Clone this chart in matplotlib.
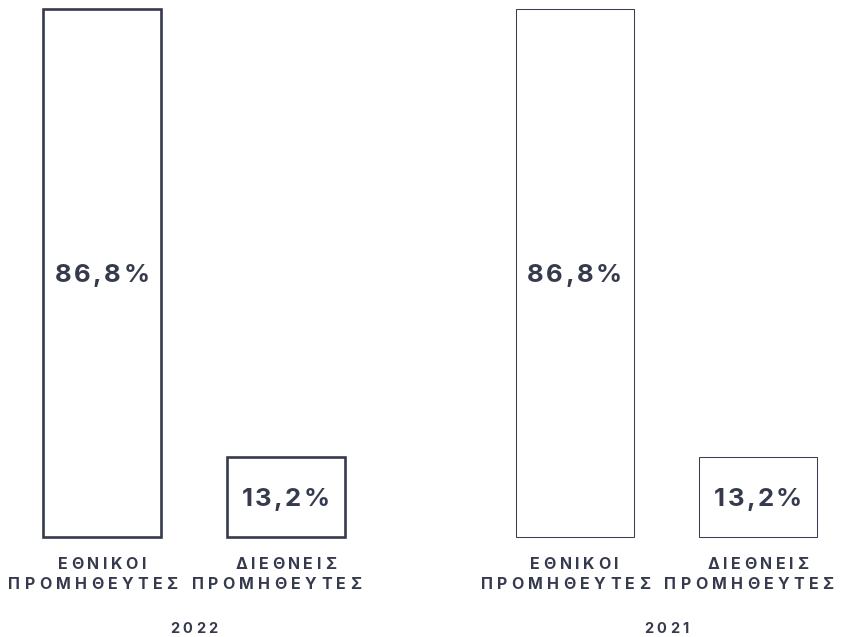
import matplotlib
matplotlib.use("Agg")
import matplotlib.pyplot as plt
from matplotlib.font_manager import FontProperties
from matplotlib.transforms import offset_copy

years = ["2022", "2021"]
category_lines = [["ΕΘΝΙΚΟΙ", "ΠΡΟΜΗΘΕΥΤΕΣ"], ["ΔΙΕΘΝΕΙΣ", "ΠΡΟΜΗΘΕΥΤΕΣ"]]
values_2022 = [86.8, 13.2]
values_2021 = [86.8, 13.2]

ink = "#363a4d"
fonts = ["Inter", "DejaVu Sans"]

fig = plt.figure(figsize=(8.43, 6.37), dpi=100)
ax = fig.add_axes([0, 0, 1, 1])
ax.set_axis_off()

# layout: bar positions in "bar slot" units
bar_w = 0.643
group_shift = 2.575
pos_2022 = [0, 1]
pos_2021 = [p + group_shift for p in pos_2022]

ax.bar(pos_2022, values_2022, bar_w, fill=False, edgecolor=ink, linewidth=1.9, clip_on=False)
ax.bar(pos_2021, values_2021, bar_w, fill=False, edgecolor="#3b3e51", linewidth=0.75, clip_on=False)

ax.set_xlim(-0.556, 4.038)
ax.set_ylim(-16.44, 88.28)

fig.canvas.draw()
renderer = fig.canvas.get_renderer()


def spaced(x, y, s, size, track, dx=0, dy=0):
    # draws text with letter spacing, centred at (x, y) + (dx, dy) pixels
    prop = FontProperties(family=fonts, weight="bold", size=size)
    widths = [renderer.get_text_width_height_descent(c, prop, ismath=False)[0] for c in s]
    w, h, d = renderer.get_text_width_height_descent("H", prop, ismath=False)
    cap = h - d
    total = sum(widths) + track * (len(s) - 1)
    pos = dx - total / 2
    for c, cw in zip(s, widths):
        tr = offset_copy(ax.transData, fig=fig, x=pos + cw / 2, y=dy - cap / 2, units="dots")
        ax.text(x, y, c, transform=tr, ha="center", va="baseline",
                fontproperties=prop, color=ink)
        pos += cw + track


for positions, values, year in [(pos_2022, values_2022, years[0]), (pos_2021, values_2021, years[1])]:
    for p, v, lines in zip(positions, values, category_lines):
        label = f"{v:.1f}".replace(".", ",") + "%"
        spaced(p, v / 2, label, 18.5, 2.5)
        spaced(p, 0, lines[0], 11.5, 3.6, dy=-26)
        spaced(p, 0, lines[1], 11.5, 4.3, dx=-9, dy=-46)
    spaced(sum(positions) / 2, 0, year, 10.5, 3.5, dy=-91)

fig.savefig("out.png", dpi=100)
